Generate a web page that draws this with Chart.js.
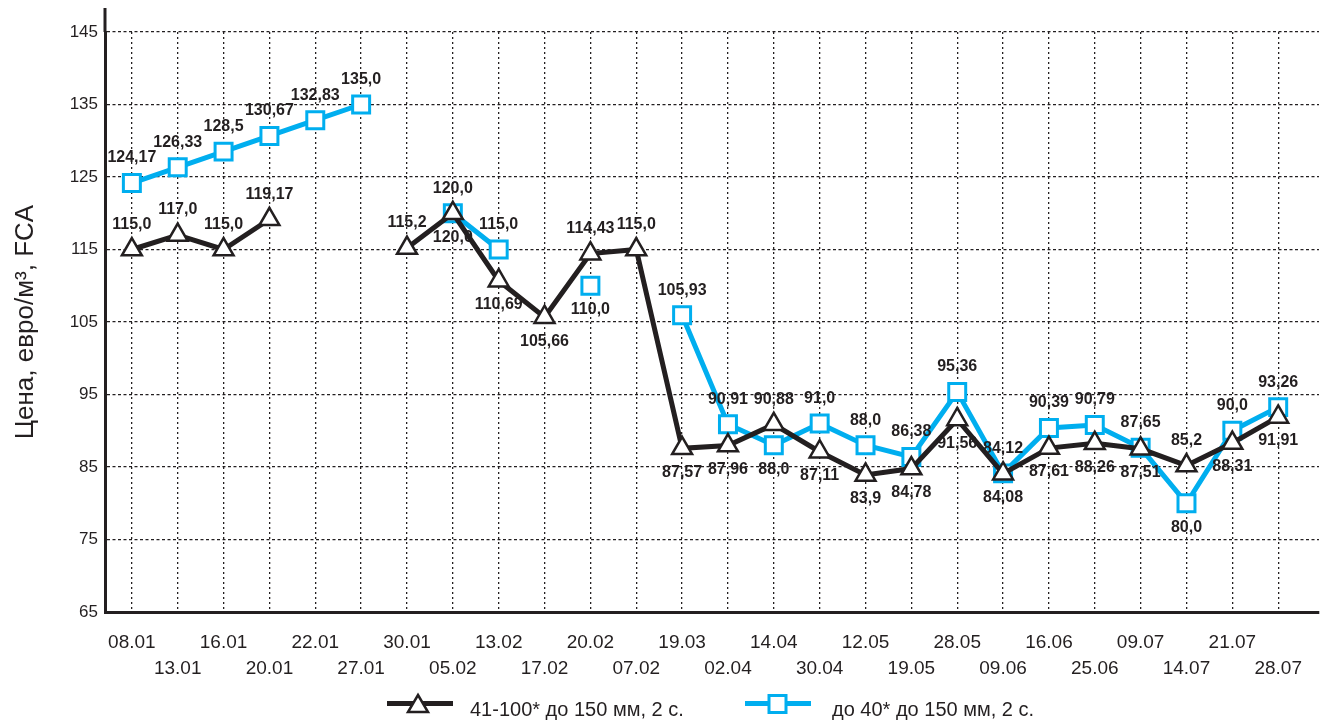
<!DOCTYPE html>
<html>
<head>
<meta charset="utf-8">
<script src="https://cdn.jsdelivr.net/npm/chart.js@4.4.0/dist/chart.umd.min.js"></script>
<style>
  html, body { margin: 0; padding: 0; background: #fff; }
  #wrap { position: relative; width: 1334px; height: 720px; }
  #legend { position: absolute; left: 0; top: 0; width: 1334px; height: 720px; pointer-events: none;
            font: 20px "Liberation Sans", Arial, sans-serif; color: #231F20; }
  #legend canvas { position: absolute; top: 692px; }
  #legend span { position: absolute; top: 699px; line-height: 20px; white-space: nowrap; }
</style>
</head>
<body>
<div id="wrap">
  <canvas id="chart" width="1334" height="720"></canvas>
  <div id="legend"></div>
</div>
<script>
// dates on the x axis
var dates = ["08.01", "13.01", "16.01", "20.01", "22.01", "27.01", "30.01", "05.02", "13.02",
  "17.02", "20.02", "07.02", "19.03", "02.04", "14.04", "30.04", "12.05", "19.05", "28.05",
  "09.06", "16.06", "25.06", "09.07", "14.07", "21.07", "28.07"];

// 41-100* до 150 мм, 2 с.
var priceBlack = [115.0, 117.0, 115.0, 119.17, null, null, 115.2, 120.0, 110.69,
  105.66, 114.43, 115.0, 87.57, 87.96, 90.88, 87.11, 83.9, 84.78, 91.56,
  84.08, 87.61, 88.26, 87.51, 85.2, 88.31, 91.91];

// до 40* до 150 мм, 2 с.
var priceBlue = [124.17, 126.33, 128.5, 130.67, 132.83, 135.0, null, 120.0, 115.0,
  null, 110.0, null, 105.93, 90.91, 88.0, 91.0, 88.0, 86.38, 95.36,
  84.12, 90.39, 90.79, 87.65, 80.0, 90.0, 93.26];

var seriesNames = ["41-100* до 150 мм, 2 с.", "до 40* до 150 мм, 2 с."];
var yMin = 65, yMax = 145, yStep = 10;

var dark = "#231F20";
var blue = "#00AEEF";
var fontFamily = '"Liberation Sans", Arial, sans-serif';

function toPoints(arr) {
  return arr.map(function(v, i) { return { x: i, y: v }; });
}

function fmt(v) {
  var s = Math.abs(v * 10 - Math.round(v * 10)) < 1e-6 ? v.toFixed(1) : v.toFixed(2);
  return s.replace(".", ",");
}

// value labels above / below the markers
var valueLabels = {
  id: "valueLabels",
  afterDatasetsDraw: function(chart) {
    var ctx = chart.ctx;
    var sets = chart.data.datasets;
    ctx.save();
    ctx.font = "bold 16px " + fontFamily;
    ctx.fillStyle = dark;
    ctx.textAlign = "center";
    ctx.textBaseline = "middle";
    sets.forEach(function(ds, d) {
      var meta = chart.getDatasetMeta(d);
      var other = sets[1 - d].data;
      var n = ds.data.length;
      ds.data.forEach(function(p, i) {
        var v = p.y;
        if (v === null) return;
        var o = other[i].y;
        var up;
        if (o !== null && Math.abs(v - o) < 7) {
          up = v > o || (v === o && d === 1);
        } else {
          // deep dips get their label underneath
          var prev = i > 0 ? ds.data[i - 1].y : null;
          var next = i < n - 1 ? ds.data[i + 1].y : null;
          up = !(prev !== null && next !== null && v < prev - 3 && v <= next);
        }
        var el = meta.data[i];
        ctx.fillText(fmt(v), el.x, up ? el.y - 25 : el.y + 24);
      });
    });
    ctx.restore();
  }
};

// left axis line runs a little above the top grid line
var axisTop = {
  id: "axisTop",
  afterDraw: function(chart) {
    var a = chart.chartArea;
    var ctx = chart.ctx;
    ctx.save();
    ctx.strokeStyle = dark;
    ctx.lineWidth = 3;
    ctx.beginPath();
    ctx.moveTo(a.left, a.top - 24);
    ctx.lineTo(a.left, a.top);
    ctx.stroke();
    ctx.restore();
  }
};

var ctx = document.getElementById("chart");

var chart = new Chart(ctx, {
  type: "line",
  data: {
    datasets: [
      {
        label: seriesNames[0],
        data: toPoints(priceBlack),
        borderColor: dark,
        borderWidth: 5,
        backgroundColor: "#fff",
        pointStyle: "triangle",
        pointRadius: 11.5,
        pointBorderWidth: 2.5,
        pointBorderColor: dark,
        pointBackgroundColor: "#fff",
        tension: 0,
        spanGaps: false
      },
      {
        label: seriesNames[1],
        data: toPoints(priceBlue),
        borderColor: blue,
        borderWidth: 5,
        backgroundColor: "#fff",
        pointStyle: "rect",
        pointRadius: 12,
        pointBorderWidth: 3,
        pointBorderColor: blue,
        pointBackgroundColor: "#fff",
        tension: 0,
        spanGaps: false
      }
    ]
  },
  options: {
    responsive: false,
    animation: false,
    layout: { padding: { top: 32, right: 9, left: 0, bottom: 0 } },
    plugins: {
      legend: { display: false },
      tooltip: { enabled: false }
    },
    scales: {
      x: {
        type: "linear",
        min: -0.586,
        max: 25.89,
        afterBuildTicks: function(scale) {
          scale.ticks = dates.map(function(d, i) { return { value: i }; });
        },
        afterFit: function(scale) { scale.height = 108; },
        grid: { color: dark, lineWidth: 1.3, drawTicks: false },
        border: { color: dark, width: 3, dash: [2, 3] },
        ticks: {
          autoSkip: false,
          maxRotation: 0,
          padding: 18,
          color: dark,
          font: { family: fontFamily, size: 19, lineHeight: 1.35 },
          callback: function(value) {
            var i = Math.round(value);
            var t = dates[i];
            return i % 2 === 0 ? [t, ""] : ["", t];
          }
        }
      },
      y: {
        min: yMin,
        max: yMax,
        afterFit: function(scale) { scale.width = 105; },
        grid: { color: dark, lineWidth: 1.3, drawTicks: false },
        border: { color: dark, width: 3, dash: [3, 2.5] },
        ticks: {
          stepSize: yStep,
          padding: 7,
          color: dark,
          font: { family: fontFamily, size: 17 }
        },
        title: {
          display: true,
          text: "Цена, евро/м³, FCA",
          color: dark,
          font: { family: fontFamily, size: 26 },
          padding: { top: 10, bottom: 0 }
        }
      }
    }
  },
  plugins: [valueLabels, axisTop]
});

// legend: line with marker, then series name
function legendIcon(color, shape) {
  var c = document.createElement("canvas");
  c.width = 66; c.height = 24;
  var g = c.getContext("2d");
  g.strokeStyle = color;
  g.lineWidth = 5;
  g.beginPath(); g.moveTo(0, 11.5); g.lineTo(66, 11.5); g.stroke();
  g.fillStyle = "#fff";
  g.lineWidth = shape === "triangle" ? 2.5 : 3;
  g.beginPath();
  if (shape === "triangle") {
    g.moveTo(31, 3); g.lineTo(41, 20); g.lineTo(21, 20); g.closePath();
  } else {
    g.rect(24, 3.5, 17, 17);
  }
  g.fill(); g.stroke();
  return c;
}

var legendBox = document.getElementById("legend");
var legendSpec = [
  { name: seriesNames[0], color: dark, shape: "triangle", icon: 387, text: 470 },
  { name: seriesNames[1], color: blue, shape: "rect", icon: 745, text: 832 }
];
legendSpec.forEach(function(s) {
  var c = legendIcon(s.color, s.shape);
  c.style.left = s.icon + "px";
  legendBox.appendChild(c);
  var span = document.createElement("span");
  span.style.left = s.text + "px";
  span.textContent = s.name;
  legendBox.appendChild(span);
});
</script>
</body>
</html>
